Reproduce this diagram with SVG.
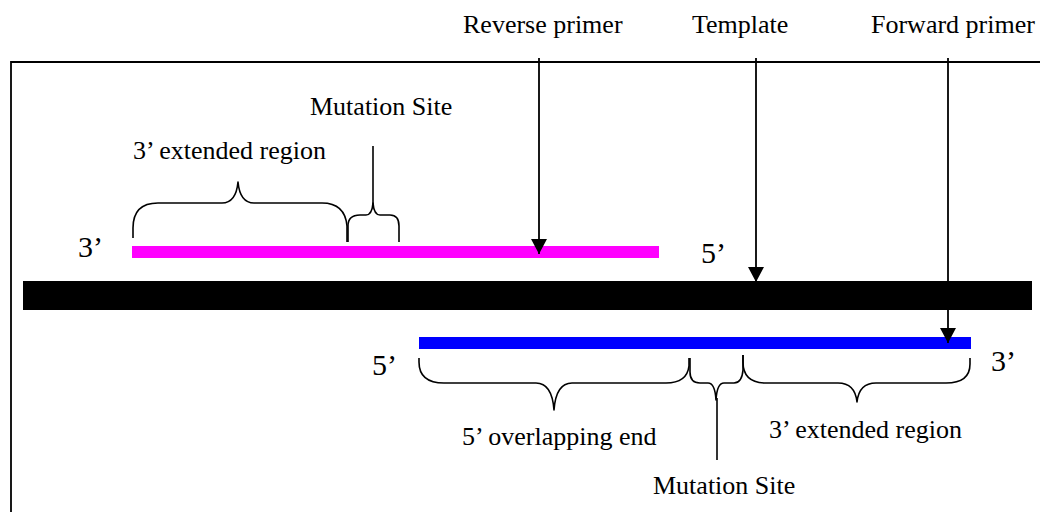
<svg xmlns="http://www.w3.org/2000/svg" width="1040" height="512" viewBox="0 0 1040 512">
  <defs>
    <marker id="arrowhead" markerUnits="userSpaceOnUse" markerWidth="15" markerHeight="16" refX="15" refY="8" orient="auto">
      <path d="M0,0 L15,8 L0,16 Z" fill="#000"/>
    </marker>
    <style>
      .label { font-family: "Liberation Serif", "Times New Roman", serif; font-size: 26px; fill: #000; }
      .end { font-size: 30px; }
      .brace { fill: none; stroke: #000; stroke-width: 1.6; stroke-linejoin: round; }
      .pointer { fill: none; stroke: #000; stroke-width: 1.8; }
      .frame { fill: none; stroke: #000; stroke-width: 1.8; }
    </style>
  </defs>

  <rect width="1040" height="512" fill="#fff"/>

  <!-- open frame around the strands -->
  <path class="frame" d="M11,512 V62 H1040"/>

  <!-- template strand -->
  <g id="template">
    <rect x="23" y="281" width="1009" height="29" fill="#000"/>
  </g>

  <!-- reverse primer (magenta) with its end labels -->
  <g id="reverse-primer">
    <rect x="132" y="246" width="527" height="12" fill="#FF00FF"/>
    <text class="label end" x="78" y="257">3’</text>
    <text class="label end" x="701" y="263">5’</text>
  </g>

  <!-- forward primer (blue) with its end labels -->
  <g id="forward-primer">
    <rect x="419" y="337" width="552" height="12" fill="#0000FF"/>
    <text class="label end" x="372" y="375">5’</text>
    <text class="label end" x="991" y="371">3’</text>
  </g>

  <!-- regions marked on the reverse primer -->
  <g id="reverse-regions">
    <path class="brace" d="M133,238 V228 Q133,203 158,203 H222 Q236,203 238,182 Q240,203 254,203 H322 Q345,203 347,226 V242"/>
    <path class="brace" d="M348,242 V226 Q348,215 360,215 H366 Q372,215 373,203 Q374,215 380,215 H390 Q399,215 399,226 V242"/>
    <line class="brace" x1="373" y1="146" x2="373" y2="205"/>
    <text class="label" x="133" y="159">3’ extended region</text>
    <text class="label" x="310" y="115">Mutation Site</text>
  </g>

  <!-- regions marked on the forward primer -->
  <g id="forward-regions">
    <path class="brace" d="M419,358 V362 Q419,383 444,383 H536 Q552,383 554,410 Q556,383 572,383 H666 Q687,383 689,366 V358"/>
    <path class="brace" d="M690,358 V372 Q690,383 700,383 H708 Q715,383 716,400 Q717,383 724,383 H734 Q742,383 743,370 V355"/>
    <line class="brace" x1="717" y1="398" x2="717" y2="460"/>
    <path class="brace" d="M743,355 V362 Q743,383 766,383 H838 Q855,383 857,402 Q859,383 876,383 H946 Q970,383 970,364 V358"/>
    <text class="label" x="462" y="445">5’ overlapping end</text>
    <text class="label" x="769" y="438">3’ extended region</text>
    <text class="label" x="653" y="494">Mutation Site</text>
  </g>

  <!-- pointer labels -->
  <g id="pointer-labels">
    <text class="label" x="463" y="33">Reverse primer</text>
    <text class="label" x="692" y="33">Template</text>
    <text class="label" x="871" y="33">Forward primer</text>
  </g>

  <!-- connectors from labels to strands -->
  <g id="connectors">
    <line class="pointer" x1="539" y1="58" x2="539" y2="254" marker-end="url(#arrowhead)"/>
    <line class="pointer" x1="756" y1="58" x2="756" y2="282" marker-end="url(#arrowhead)"/>
    <line class="pointer" x1="948" y1="58" x2="948" y2="343" marker-end="url(#arrowhead)"/>
  </g>
</svg>
